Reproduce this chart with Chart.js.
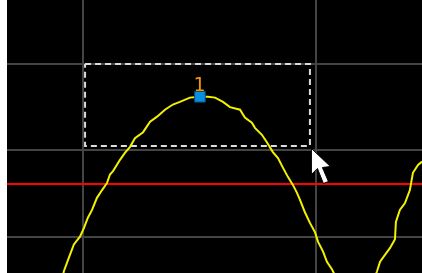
<!DOCTYPE html>
<html><head><meta charset="utf-8">
<script src="https://cdn.jsdelivr.net/npm/chart.js@4/dist/chart.umd.min.js"></script>
<style>
html,body{margin:0;padding:0;background:#fff;overflow:hidden;width:422px;height:273px}
#wrap{position:absolute;left:7px;top:0;width:415px;height:273px;background:#000}
canvas{display:block}
</style></head><body>
<div id="wrap"><canvas id="c" width="415" height="273"></canvas></div>
<script>
// Trace (x in arbitrary frequency units, 100 per division; y in dB, 10 dB per division)
const freq = [91.4, 91.8, 94.0, 96.1, 98.7, 100.4, 102.1, 103.9, 106.0, 108.2,
  110.3, 111.6, 112.9, 115.9, 118.0, 120.2, 122.3, 125.8, 128.8, 131.8,
  135.2, 138.6, 141.6, 145.9, 150.2, 153.6, 156.7, 160.1, 163.1, 167.4,
  169.5, 172.5, 173.8, 176.8, 179.0, 181.5, 183.7, 185.8, 188.0, 190.1,
  191.8, 193.1, 195.3, 197.4, 199.6, 200.9, 203.0, 204.7, 206.9, 208.6,
  212.4, 216.7, 221.0, 224.9, 226.2, 227.5, 229.6, 231.8, 233.9, 234.3,
  236.0, 238.2, 240.3, 241.6, 243.8, 245.5];
const level = [-44.5, -44.0, -42.4, -40.9, -40.0, -39.0, -37.8, -36.9, -35.5, -34.6,
  -33.8, -32.8, -32.4, -31.1, -30.3, -29.6, -28.6, -27.9, -26.7, -26.1,
  -25.3, -24.7, -24.4, -23.9, -23.8, -23.8, -23.9, -24.4, -25.0, -25.3,
  -26.2, -26.8, -27.4, -28.2, -29.1, -30.2, -30.9, -32.0, -33.1, -34.0,
  -34.9, -35.7, -37.2, -38.4, -39.5, -40.6, -41.7, -42.9, -43.8, -44.7,
  -47.3, -48.4, -47.3, -45.0, -44.0, -42.9, -42.1, -41.3, -40.3, -38.3,
  -36.9, -36.1, -34.6, -32.6, -31.7, -31.3];
const gridX = [100, 200];
const gridY = [-40, -30, -20];
const xRange = [67.4, 245.5];
const yRange = [-44.2, -12.6];
const displayLine = [-33.9];
const markerX = [150.2];
const markerY = [-23.8];
const markerLabels = ['1'];
const zoomBoxX = [100.9, 197.4];
const zoomBoxY = [-29.5, -20];

const tracePts = freq.map((f, i) => ({x: f, y: level[i]}));
const linePts = [{x: xRange[0], y: displayLine[0]}, {x: xRange[1], y: displayLine[0]}];
const boxPts = [
  {x: zoomBoxX[0], y: zoomBoxY[1]}, {x: zoomBoxX[1], y: zoomBoxY[1]},
  {x: zoomBoxX[1], y: zoomBoxY[0]}, {x: zoomBoxX[0], y: zoomBoxY[0]},
  {x: zoomBoxX[0], y: zoomBoxY[1]}];
const markerPts = markerX.map((x, i) => ({x, y: markerY[i]}));

const bgPlugin = {
  id: 'bg',
  beforeDraw(chart) {
    const ctx = chart.ctx;
    ctx.save(); ctx.fillStyle = '#000';
    ctx.fillRect(0, 0, chart.width, chart.height); ctx.restore();
  }
};
const overlayPlugin = {
  id: 'overlay',
  afterDatasetsDraw(chart) {
    const ctx = chart.ctx;
    const xs = chart.scales.x, ys = chart.scales.y;
    const meta = chart.getDatasetMeta(0);
    ctx.save();
    ctx.fillStyle = '#f0960a';
    ctx.font = '19px "DejaVu Sans"';
    ctx.textAlign = 'center';
    ctx.textBaseline = 'alphabetic';
    meta.data.forEach((pt, i) => {
      ctx.fillText(markerLabels[i], pt.x - 0.5, pt.y - 6);
    });
    ctx.restore();
    // mouse cursor at zoom-box corner
    const tx = xs.getPixelForValue(zoomBoxX[1]) + 1.5;
    const ty = ys.getPixelForValue(zoomBoxY[0]) + 2.5;
    const shape = [[0,0],[0,26],[6,20],[12,35],[17,33],[11,19],[19,18]];
    ctx.save();
    ctx.beginPath();
    shape.forEach((p, i) => i ? ctx.lineTo(tx + p[0], ty + p[1]) : ctx.moveTo(tx + p[0], ty + p[1]));
    ctx.closePath();
    ctx.fillStyle = '#fff'; ctx.fill();
    ctx.lineWidth = 1; ctx.strokeStyle = '#000'; ctx.stroke();
    ctx.restore();
  }
};

new Chart(document.getElementById('c'), {
  type: 'line',
  data: {
    datasets: [
      {data: markerPts, showLine: false, pointStyle: 'rect', pointRadius: 7.5,
        backgroundColor: '#0a8ee0', borderColor: '#05507e', pointBorderWidth: 1, order: 0},
      {data: tracePts, borderColor: '#f2f200', borderWidth: 2, pointRadius: 0,
        tension: 0, order: 1},
      {data: boxPts, borderColor: '#dcdcdc', borderWidth: 2, borderDash: [6, 4],
        pointRadius: 0, order: 2},
      {data: linePts, borderColor: '#ff0000', borderWidth: 2, pointRadius: 0, order: 3}
    ]
  },
  options: {
    responsive: false, animation: false, events: [],
    layout: {padding: 0, autoPadding: false},
    plugins: {legend: {display: false}, tooltip: {enabled: false}},
    scales: {
      x: {type: 'linear', min: xRange[0], max: xRange[1],
        afterBuildTicks: s => { s.ticks = gridX.map(v => ({value: v})); },
        grid: {color: '#444', lineWidth: 2, drawTicks: false},
        border: {display: false}, ticks: {display: false}},
      y: {type: 'linear', min: yRange[0], max: yRange[1],
        afterBuildTicks: s => { s.ticks = gridY.map(v => ({value: v})); },
        grid: {color: '#444', lineWidth: 2, drawTicks: false},
        border: {display: false}, ticks: {display: false}}
    }
  },
  plugins: [bgPlugin, overlayPlugin]
});
</script>
</body></html>
